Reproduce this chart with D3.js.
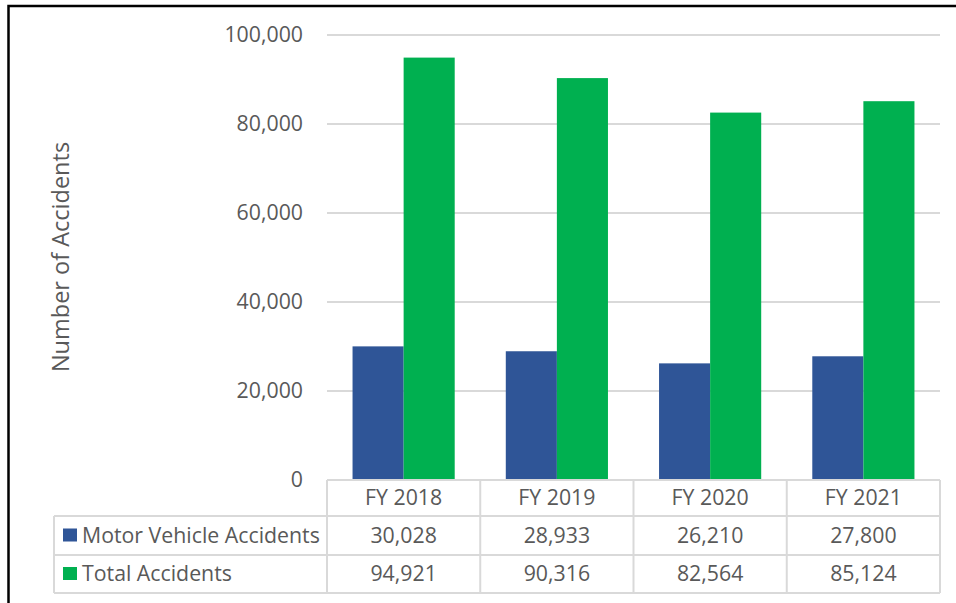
<!DOCTYPE html>
<meta charset='utf-8'>
<head>
    <title>Accidents</title>
    <script src='https://cdn.jsdelivr.net/npm/d3@7'></script>
</head>

<style>
    body { margin: 0; background: white; }
    text {
        font-family: 'Open Sans', sans-serif;
        font-size: 21.3px;
        fill: #595959;
    }
    .grid line { stroke: #d9d9d9; stroke-width: 2px; }
    .tbl line { stroke: #d9d9d9; stroke-width: 2px; }
</style>

<svg></svg>

<script>
    var vWidth = 956;
    var vHeight = 603;

    // data
    var vYears = ['FY 2018', 'FY 2019', 'FY 2020', 'FY 2021'];
    var vSeries = ['Motor Vehicle Accidents', 'Total Accidents'];
    var vMotor = [30028, 28933, 26210, 27800];
    var vTotal = [94921, 90316, 82564, 85124];
    var vTicks = [0, 20000, 40000, 60000, 80000, 100000];
    var vColors = ['#2F5597', '#00B050'];

    var svg = d3.select('svg').attr('width', vWidth).attr('height', vHeight);

    // outer frame (top + left only)
    svg.append('path')
        .attr('d', 'M8.5,603 L8.5,6 L956,6')
        .attr('fill', 'none').attr('stroke', '#000').attr('stroke-width', 2.5);

    var x0 = d3.scaleBand().domain(vYears).range([327, 940]);
    var x1 = d3.scaleBand().domain(vSeries).range([0, x0.bandwidth()])
        .paddingInner(0).paddingOuter(0.5);
    var y = d3.scaleLinear().domain([0, 100000]).range([480, 35]);

    // gridlines
    svg.append('g').attr('class', 'grid')
        .selectAll('line').data(vTicks.slice(1)).enter().append('line')
        .attr('x1', 327).attr('x2', 940)
        .attr('y1', function(d) { return y(d); })
        .attr('y2', function(d) { return y(d); });

    // y axis labels
    var yAxis = svg.append('g').attr('transform', 'translate(327,0)')
        .call(d3.axisLeft(y).tickValues(vTicks).tickSize(0).tickPadding(24)
            .tickFormat(d3.format(',')));
    yAxis.select('.domain').remove();
    yAxis.selectAll('text').attr('fill', '#595959').style('font-size', '21.3px')
        .style('font-family', "'Open Sans', sans-serif");

    svg.append('text')
        .attr('transform', 'translate(69,257) rotate(-90)')
        .attr('text-anchor', 'middle')
        .style('font-size', '23.5px')
        .text('Number of Accidents');

    // bars
    var vRows = [vMotor, vTotal];
    vRows.forEach(function(vals, si) {
        svg.append('g').selectAll('rect').data(vals).enter().append('rect')
            .attr('x', function(d, i) { return x0(vYears[i]) + x1(vSeries[si]); })
            .attr('width', x1.bandwidth())
            .attr('y', function(d) { return y(d); })
            .attr('height', function(d) { return y(0) - y(d); })
            .attr('fill', vColors[si]);
    });

    // data table
    var tbl = svg.append('g').attr('class', 'tbl');
    var rowY = [480, 516, 555, 593];
    var tblLeft = 54;
    var cols = [327].concat(vYears.map(function(d) { return x0(d) + x0.bandwidth(); }));

    tbl.append('line').attr('x1', 327).attr('x2', 940).attr('y1', rowY[0]).attr('y2', rowY[0]);
    rowY.slice(1).forEach(function(ry) {
        tbl.append('line').attr('x1', tblLeft).attr('x2', 940).attr('y1', ry).attr('y2', ry);
    });
    tbl.append('line').attr('x1', tblLeft).attr('x2', tblLeft).attr('y1', rowY[1]).attr('y2', rowY[3]);
    cols.forEach(function(cx) {
        tbl.append('line').attr('x1', cx).attr('x2', cx).attr('y1', rowY[0]).attr('y2', rowY[3]);
    });

    // header
    svg.append('g').selectAll('text').data(vYears).enter().append('text')
        .attr('x', function(d) { return x0(d) + x0.bandwidth() / 2; })
        .attr('y', (rowY[0] + rowY[1]) / 2)
        .attr('dy', '0.35em')
        .attr('text-anchor', 'middle')
        .text(function(d) { return d; });

    var fmt = d3.format(',');
    vRows.forEach(function(vals, si) {
        var cy = (rowY[si + 1] + rowY[si + 2]) / 2;
        svg.append('rect')
            .attr('x', 63).attr('y', cy - 7).attr('width', 14).attr('height', 13)
            .attr('fill', vColors[si]);
        svg.append('text')
            .attr('x', 82).attr('y', cy).attr('dy', '0.35em')
            .text(vSeries[si]);
        svg.append('g').selectAll('text').data(vals).enter().append('text')
            .attr('x', function(d, i) { return x0(vYears[i]) + x0.bandwidth() / 2; })
            .attr('y', cy).attr('dy', '0.35em')
            .attr('text-anchor', 'middle')
            .text(function(d) { return fmt(d); });
    });
</script>
